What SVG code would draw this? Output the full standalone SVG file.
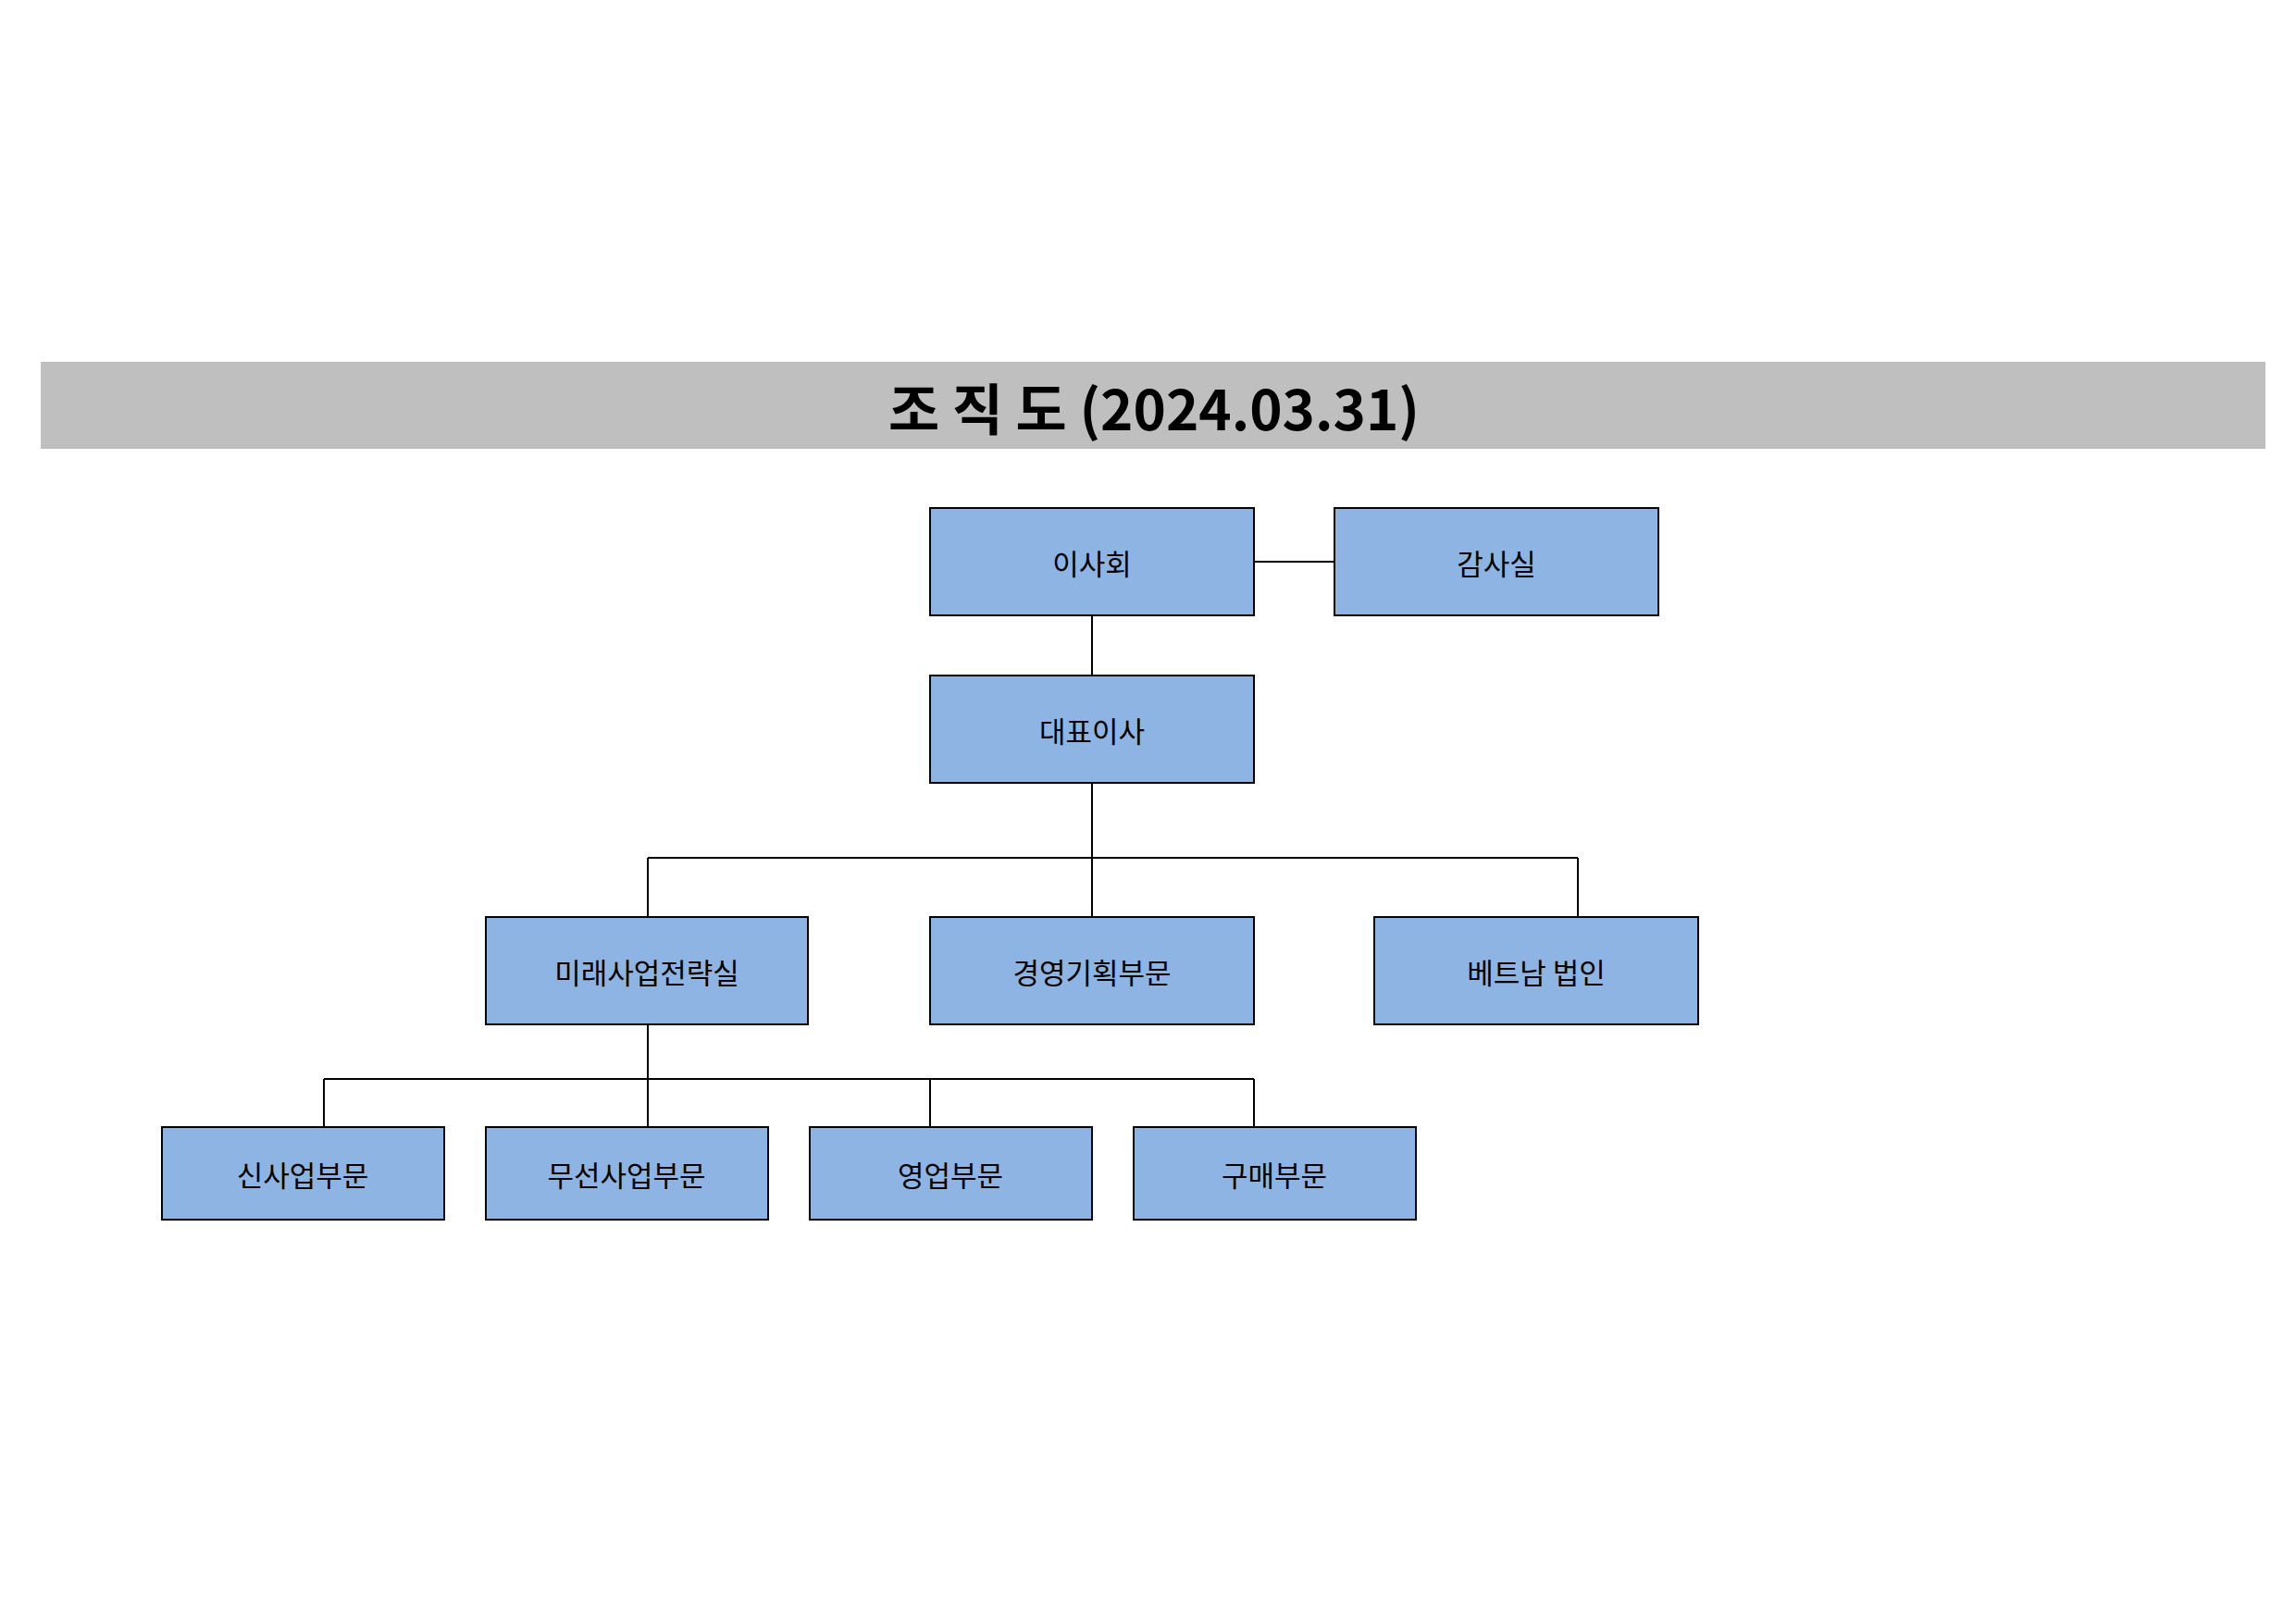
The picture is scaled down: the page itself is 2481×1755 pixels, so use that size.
<svg xmlns="http://www.w3.org/2000/svg" width="2481" height="1755" viewBox="0 0 2481 1755">
<style>
.b{fill:#8EB4E3;stroke:#000;stroke-width:2}
.t{font-family:"Noto Sans CJK KR","Noto Sans",sans-serif;font-size:31px;text-anchor:middle;dominant-baseline:central;fill:#000}
.c{stroke:#000;stroke-width:2;fill:none}
</style>
<rect width="2481" height="1755" fill="#fff"/>
<g id="title"><rect x="44" y="391" width="2404" height="94" fill="#BFBFBF"/>
<text x="1247" y="438" style="font-family:'Noto Sans CJK KR',sans-serif;font-size:60px;font-weight:bold;text-anchor:middle;dominant-baseline:central">조 직 도 (2024.03.31)</text></g>
<g id="connectors">
<path class="c" d="M1355 607H1442M1180 665V730M1180 846V991M700 927H1705M700 927V991M1705 927V991M700 1107V1218M350 1166H1355M350 1166V1218M1005 1166V1218M1355 1166V1218"/>
</g>
<g id="n1"><rect class="b" x="1005" y="549" width="350" height="116"/><text class="t" x="1180" y="607">이사회</text></g>
<g id="n2"><rect class="b" x="1442" y="549" width="350" height="116"/><text class="t" x="1617" y="607">감사실</text></g>
<g id="n3"><rect class="b" x="1005" y="730" width="350" height="116"/><text class="t" x="1180" y="788">대표이사</text></g>
<g id="n4"><rect class="b" x="525" y="991" width="348" height="116"/><text class="t" x="699" y="1049">미래사업전략실</text></g>
<g id="n5"><rect class="b" x="1005" y="991" width="350" height="116"/><text class="t" x="1180" y="1049">경영기획부문</text></g>
<g id="n6"><rect class="b" x="1485" y="991" width="350" height="116"/><text class="t" x="1660" y="1049">베트남 법인</text></g>
<g id="n7"><rect class="b" x="175" y="1218" width="305" height="100"/><text class="t" x="327" y="1268">신사업부문</text></g>
<g id="n8"><rect class="b" x="525" y="1218" width="305" height="100"/><text class="t" x="677" y="1268">무선사업부문</text></g>
<g id="n9"><rect class="b" x="875" y="1218" width="305" height="100"/><text class="t" x="1027" y="1268">영업부문</text></g>
<g id="n10"><rect class="b" x="1225" y="1218" width="305" height="100"/><text class="t" x="1377" y="1268">구매부문</text></g>
</svg>
